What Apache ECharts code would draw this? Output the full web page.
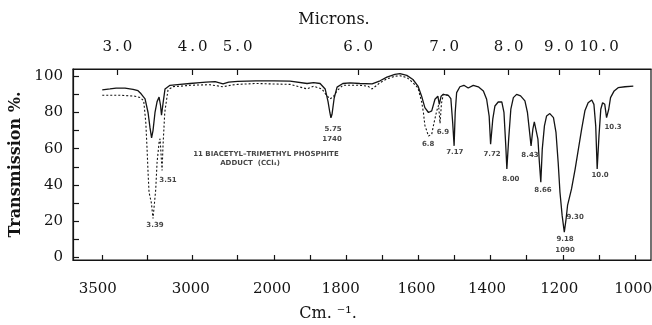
<!DOCTYPE html>
<html>
<head>
<meta charset="utf-8">
<script src="https://cdn.jsdelivr.net/npm/echarts@6/dist/echarts.min.js"></script>
<style>
  html, body { margin: 0; padding: 0; background: #fff; }
  #chart { width: 652px; height: 325px; }
</style>
</head>
<body>
<div id="chart"></div>
<script>
// IR trace, [wavenumber cm-1, transmission %]
const solidTrace = [
  [3500, 92.5], [3414, 93], [3347, 93.5], [3248, 93.5], [3159, 92.8], [3104, 92],
  [3070, 90.3], [3026, 87.5], [2993, 80], [2971, 71.5], [2954, 66], [2938, 70],
  [2916, 80], [2893, 86], [2871, 88.5], [2855, 84], [2844, 78.5], [2827, 85],
  [2805, 93], [2750, 95], [2639, 95.5], [2528, 96], [2418, 96.5], [2351, 96.8],
  [2250, 97], [2163, 95.8], [2100, 96.8], [2000, 97.2], [1949, 97.5], [1900, 97.5],
  [1855, 97.3], [1808, 96], [1790, 96.5], [1772, 96], [1758, 93], [1750, 86],
  [1745, 80], [1742, 77], [1739, 79], [1733, 88], [1725, 94], [1709, 96],
  [1689, 96.3], [1662, 96], [1628, 95.8], [1606, 97.5], [1587, 99.5], [1565, 101],
  [1551, 101.5], [1532, 100.5], [1515, 98.2], [1501, 94.6], [1491, 89], [1482, 82.7],
  [1472, 80], [1463, 80.9], [1454, 87.3], [1446, 89], [1442, 84.5], [1437, 89],
  [1431, 90], [1417, 89.5], [1410, 87.6], [1405, 74.5], [1401, 61.6], [1398, 80],
  [1394, 91], [1385, 94.2], [1374, 95], [1362, 93.5], [1348, 95], [1334, 94.2],
  [1320, 91.9], [1311, 87.3], [1304, 78], [1300, 62.5], [1294, 76.3], [1288, 83.6],
  [1279, 85.8], [1269, 85.8], [1263, 80], [1258, 61.6], [1255, 48.8], [1250, 65.3],
  [1244, 81.8], [1237, 88.2], [1228, 90], [1217, 89.2], [1205, 86.4], [1198, 80],
  [1193, 70.8], [1188, 61.6], [1183, 70.8], [1179, 74.8], [1174, 74.8], [1169, 65.3],
  [1165, 52.5], [1161, 41.5], [1157, 59.8], [1151, 72.6], [1145, 78.1], [1136, 79.4],
  [1126, 77.2], [1119, 69], [1113, 52.5], [1108, 36], [1102, 23.2], [1096, 14],
  [1091, 21.3], [1087, 28.7], [1082, 29.6], [1076, 37.8], [1066, 48.8], [1057, 59.8],
  [1048, 70.8], [1039, 80.9], [1030, 85.4], [1020, 86.9], [1014, 84.5], [1009, 72.6],
  [1005, 48.8], [1000, 67.1], [995, 81.8], [990, 85.4], [984, 84.5], [979, 77.2],
  [973, 81.8], [968, 88.2], [958, 91.9], [947, 93.7], [928, 94.2], [905, 94.6]
];

// second (dotted) trace, only where it parts from the first
const dashedTrace = [
  [3500, 89.5], [3303, 89.5], [3137, 89], [3082, 88.3], [3041, 86.5], [3018, 74.5],
  [3004, 60], [2993, 47], [2982, 36], [2956, 30], [2938, 21.5], [2927, 20.5],
  [2908, 37.5], [2893, 52.5], [2871, 63.5], [2860, 65.5], [2849, 57], [2838, 48],
  [2827, 62], [2808, 80], [2772, 92.5], [2716, 94.3], [2639, 94.5], [2528, 95],
  [2418, 95.2], [2307, 95.3], [2163, 94.2], [2063, 95.2], [2000, 95.5], [1949, 96],
  [1855, 95.5], [1808, 93], [1790, 94.5], [1767, 93], [1756, 90], [1745, 87.5],
  [1736, 88.5], [1725, 92], [1709, 95], [1662, 95], [1640, 94.5], [1628, 93],
  [1615, 95], [1606, 96.5], [1587, 98.5], [1565, 100], [1551, 100.3], [1532, 99.3],
  [1515, 96.5], [1501, 93.5], [1491, 86], [1486, 80], [1482, 73], [1472, 67],
  [1463, 68], [1457, 74], [1449, 81], [1444, 84], [1440, 74], [1436, 85],
  [1431, 90], [1417, 89.5]
];

// hand-written notes on the scan: [text, wavenumber, transmission]
const peakNotes = [
  ['3.39', 2916, 17.9], ['3.51', 2772, 42.6], ['5.75', 1736, 70.6], ['1740', 1739, 65.1],
  ['6.8', 1473, 62.4], ['6.9', 1432, 69], ['7.17', 1399, 58], ['7.72', 1296, 56.9],
  ['8.00', 1244, 43.1], ['8.43', 1191, 56.3], ['8.66', 1155, 37.1], ['9.30', 1066, 22.3],
  ['9.18', 1094, 10.2], ['1090', 1094, 4.1], ['10.0', 997, 45.3], ['10.3', 961, 71.7],
  ['11 BIACETYL\u2013TRIMETHYL PHOSPHITE', 1922, 56.9], ['ADDUCT  (CCl\u2084)', 1966, 51.9]
];

const yTicks = [0, 10, 20, 30, 40, 50, 60, 70, 80, 90, 100];
const yLabels = [0, 20, 40, 60, 80, 100];
const micronLabels = ['3.0', '4.0', '5.0', '6.0', '7.0', '8.0', '9.0', '10.0'];
const cmTicks = [900, 1000, 1100, 1200, 1300, 1400, 1500, 1600, 1700, 1800, 1900, 2000, 2500, 3000, 3500];
// the printed cm-1 scale sits offset from the trace, as on the original sheet
const cmLabels = ['3500', '3000', '2000', '1800', '1600', '1400', '1200', '1000'];
const cmLabelAt = [3550, 2520, 1905, 1715, 1505, 1310, 1110, 905];

// chart paper: above 2000 cm-1 the scale is squeezed four times
function toAxis(wn) {
  return wn <= 2000 ? wn : 2000 + (wn - 2000) / 4;
}

const ink = '#141414';
const serif = '"DejaVu Serif", "Liberation Serif", serif';

function lookup(values, texts) {
  return (v) => {
    const i = values.findIndex((w) => Math.abs(toAxis(w) - v) < 1e-6);
    return i < 0 ? '' : texts[i];
  };
}

const micronAt = micronLabels.map((m) => 10000 / parseFloat(m));

const chart = echarts.init(document.getElementById('chart'), null, { renderer: 'canvas' });
chart.setOption({
  animation: false,
  backgroundColor: '#fff',
  grid: {
    left: 73, right: 1, top: 69, bottom: 65, outerBoundsMode: 'none', containLabel: false,
    show: true, borderColor: ink, borderWidth: 1.2
  },
  xAxis: [
    {
      type: 'value', position: 'bottom', min: 856, max: 2456, inverse: true,
      axisLine: { show: true, onZero: false, lineStyle: { color: ink, width: 1.2 } },
      axisTick: { show: true, inside: true, length: 5, customValues: cmTicks.map(toAxis), lineStyle: { color: ink, width: 1.2 } },
      axisLabel: {
        customValues: cmLabelAt.map(toAxis), formatter: lookup(cmLabelAt, cmLabels),
        margin: 22, fontFamily: serif, fontSize: 15, color: ink, hideOverlap: false
      },
      splitLine: { show: false }
    },
    {
      type: 'value', position: 'top', min: 856, max: 2456, inverse: true,
      axisLine: { show: true, onZero: false, lineStyle: { color: ink, width: 1.2 } },
      axisTick: { show: true, inside: true, length: 6, customValues: micronAt.map(toAxis), lineStyle: { color: ink, width: 1.2 } },
      axisLabel: {
        customValues: micronAt.map(toAxis),
        formatter: (v) => lookup(micronAt, micronLabels)(v).replace('.', '\u2009.\u2009'),
        margin: 14, fontFamily: serif, fontSize: 15, color: ink, hideOverlap: false
      },
      splitLine: { show: false }
    }
  ],
  yAxis: {
    type: 'value', min: -1.4, max: 104,
    name: 'Transmission %.', nameLocation: 'middle', nameGap: 41, nameRotate: 90,
    nameTextStyle: { fontFamily: serif, fontSize: 16, fontWeight: 'bold', color: ink },
    axisLine: { show: true, onZero: false, lineStyle: { color: ink, width: 1.2 } },
    axisTick: { show: true, inside: true, length: 6, customValues: yTicks, lineStyle: { color: ink, width: 1.2 } },
    axisLabel: { customValues: yLabels, margin: 10, fontFamily: serif, fontSize: 15, color: ink },
    splitLine: { show: false }
  },
  graphic: [
    { type: 'text', x: 334, y: 20, style: { text: 'Microns.', font: '16px ' + serif, fill: ink, align: 'center', verticalAlign: 'middle' } },
    { type: 'text', x: 328, y: 314, style: { text: 'Cm. \u207b\u00b9.', font: '16px ' + serif, fill: ink, align: 'center', verticalAlign: 'middle' } }
  ],
  series: [
    {
      name: 'trace', type: 'line', showSymbol: false, silent: true,
      data: solidTrace.map(([wn, t]) => [toAxis(wn), t]),
      lineStyle: { color: ink, width: 1.3 }
    },
    {
      name: 'second trace', type: 'line', showSymbol: false, silent: true,
      data: dashedTrace.map(([wn, t]) => [toAxis(wn), t]),
      lineStyle: { color: ink, width: 1.1, type: [2, 2] }
    },
    {
      name: 'notes', type: 'scatter', symbolSize: 1, silent: true,
      itemStyle: { color: 'rgba(0,0,0,0)' },
      data: peakNotes.map(([text, wn, t]) => ({ name: text, value: [toAxis(wn), t] })),
      label: {
        show: true, position: 'inside', formatter: '{b}',
        fontFamily: '"DejaVu Sans", sans-serif', fontSize: 7, fontWeight: 'bold', color: ink
      }
    }
  ]
});
</script>
</body>
</html>
